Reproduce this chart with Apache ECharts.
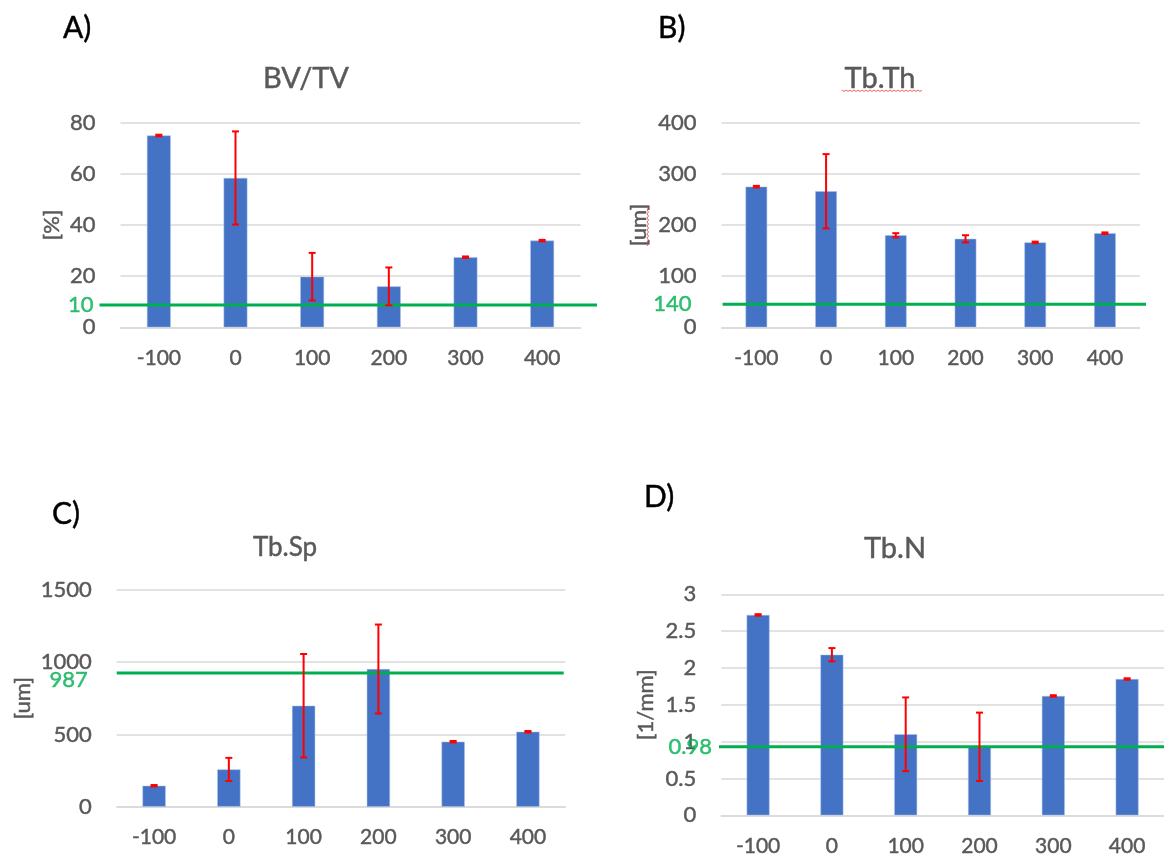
<!DOCTYPE html>
<html><head><meta charset="utf-8">
<script src="https://cdn.jsdelivr.net/npm/echarts@6/dist/echarts.min.js"></script>
<style>html,body{margin:0;padding:0;background:#fff}#c{width:1164px;height:854px}</style>
</head><body><div id="c"></div>
<script>
// ---- data ----
const categories = ['-100', '0', '100', '200', '300', '400'];

const bvtvValues = [75, 58.4, 19.8, 16.0, 27.4, 33.9];
const bvtvErrors = [0.3, 18.2, 9.3, 7.4, 0.3, 0.3];
const tbthValues = [275, 266, 180, 173, 166, 184];
const tbthErrors = [1.5, 72.6, 4, 7, 1.5, 1.5];
const tbspValues = [145, 258, 699, 953, 450, 519];
const tbspErrors = [5, 80, 358, 308, 5, 5];
const tbnValues = [2.72, 2.18, 1.10, 0.93, 1.62, 1.85];
const tbnErrors = [0.01, 0.09, 0.5, 0.464, 0.01, 0.01];

const panelTitles = ['BV/TV', 'Tb.Th', 'Tb.Sp', 'Tb.N'];
const panelLetters = ['A)', 'B)', 'C)', 'D)'];
const yUnits = ['[%]', '[um]', '[um]', '[1/mm]'];
const yTicksA = ['0', '20', '40', '60', '80'];
const yTicksB = ['0', '100', '200', '300', '400'];
const yTicksC = ['0', '500', '1000', '1500'];
const yTicksD = ['0', '0.5', '1', '1.5', '2', '2.5', '3'];
const yMax = [80, 400, 1500, 3];
const yInterval = [20, 100, 500, 0.5];
// reference (green) lines: level as drawn in the picture, and their labels
const refLevels = [8.7, 45, 925, 0.93];
const refLabels = ['10', '140', '987', '0.98'];

// ---- layout (styles / positions only) ----
const layout = [
  { grid: {left: 120.5, right: 583.5, top: 122.7, bottom: 526.7}, lineGrid: {left: 99.5, right: 567},
    title: [306, 79, 29], letter: [63, 28], nameGap: 58, refDist: 5, refDy: 0 },
  { grid: {left: 721.5, right: 24.2, top: 122.7, bottom: 526.7}, lineGrid: {left: 722.6, right: 18},
    title: [880, 79, 29], letter: [658, 28], nameGap: 72, refDist: 30, refDy: 0 },
  { grid: {left: 116.7, right: 598.7, top: 590, bottom: 47.3}, lineGrid: {left: 116.7, right: 600.3},
    title: [285, 548, 26], letter: [52, 514], nameGap: 83, refDist: 28, refDy: 7 },
  { grid: {left: 721.2, right: 0, top: 594.3, bottom: 38.7}, lineGrid: {left: 719, right: 0},
    title: [895, 549, 29], letter: [644, 497], nameGap: 64, refDist: 6, refDy: 0 }
];

const values = [bvtvValues, tbthValues, tbspValues, tbnValues];
const errors = [bvtvErrors, tbthErrors, tbspErrors, tbnErrors];
const yTicks = [yTicksA, yTicksB, yTicksC, yTicksD];

const FONT = 'Lato, "Open Sans", sans-serif';
const GREY = '#595959';
const BLUE = '#4472c4';
const GREEN = '#00b050';
const RED = '#ff0000';
const THICK = 0.45; // slight stroke to mimic the heavier text rendering

const grids = [], xAxes = [], yAxes = [], series = [], graphics = [];

layout.forEach((L, p) => {
  const gMain = grids.length;
  grids.push(Object.assign({containLabel: false, outerBoundsMode: 'none'}, L.grid));
  const gLine = grids.length;
  grids.push(Object.assign({containLabel: false, outerBoundsMode: 'none', top: L.grid.top, bottom: L.grid.bottom}, L.lineGrid));

  const xi = xAxes.length;
  xAxes.push({
    type: 'category', gridIndex: gMain, data: categories,
    axisLine: {show: true, lineStyle: {color: '#d9d9d9', width: 1.5}},
    axisTick: {show: false},
    axisLabel: {color: GREY, fontFamily: FONT, fontSize: 21, margin: 20,
      textBorderColor: GREY, textBorderWidth: THICK}
  });
  xAxes.push({type: 'value', gridIndex: gLine, min: 0, max: 1, show: false});

  const yi = yAxes.length;
  const ticks = yTicks[p];
  yAxes.push({
    type: 'value', gridIndex: gMain, min: 0, max: yMax[p], interval: yInterval[p],
    axisLine: {show: false}, axisTick: {show: false},
    splitLine: {show: true, lineStyle: {color: '#d9d9d9', width: 1.5}},
    axisLabel: {color: GREY, fontFamily: FONT, fontSize: 22, margin: 25,
      textBorderColor: GREY, textBorderWidth: THICK,
      formatter: v => ticks[Math.round(v / yInterval[p])] ?? ''},
    name: yUnits[p], nameLocation: 'middle', nameRotate: 90, nameGap: L.nameGap,
    nameTextStyle: {color: GREY, fontFamily: FONT, fontSize: 22,
      textBorderColor: GREY, textBorderWidth: THICK}
  });
  yAxes.push({type: 'value', gridIndex: gLine, min: 0, max: yMax[p], show: false});

  series.push({
    type: 'bar', xAxisIndex: xi, yAxisIndex: yi, data: values[p],
    barWidth: '31%', itemStyle: {color: BLUE, borderColor: '#a9c2ea', borderWidth: 0.5},
    z: 2
  });
  series.push({
    type: 'custom', xAxisIndex: xi, yAxisIndex: yi, z: 5,
    data: values[p].map((v, i) => [i, v, errors[p][i]]),
    encode: {x: 0, y: 1},
    renderItem: function (params, api) {
      const i = api.value(0), v = api.value(1), e = api.value(2);
      const hi = api.coord([i, v + e]);
      const lo = api.coord([i, v - e]);
      const cap = 3.5;
      const st = {stroke: RED, lineWidth: 2};
      return {type: 'group', children: [
        {type: 'line', shape: {x1: hi[0], y1: hi[1], x2: lo[0], y2: lo[1]}, style: st},
        {type: 'line', shape: {x1: hi[0] - cap, y1: hi[1], x2: hi[0] + cap, y2: hi[1]}, style: st},
        {type: 'line', shape: {x1: lo[0] - cap, y1: lo[1], x2: lo[0] + cap, y2: lo[1]}, style: st}
      ]};
    }
  });
  // green reference line
  series.push({
    type: 'line', xAxisIndex: xi + 1, yAxisIndex: yi + 1, z: 4,
    data: [[0, refLevels[p]], [1, refLevels[p]]],
    symbol: 'none', silent: true, animation: false,
    lineStyle: {color: GREEN, width: 3}
  });
  series.push({
    type: 'scatter', xAxisIndex: xi + 1, yAxisIndex: yi + 1, z: 6, clip: false,
    data: [[0, refLevels[p]]], symbolSize: 2, itemStyle: {color: 'rgba(0,0,0,0)'},
    silent: true, animation: false,
    label: {show: true, position: 'left', distance: L.refDist, offset: [0, L.refDy],
      formatter: () => refLabels[p], color: GREEN, fontFamily: FONT, fontSize: 22,
      textBorderColor: GREEN, textBorderWidth: THICK}
  });

  graphics.push({type: 'text', x: L.title[0], y: L.title[1],
    style: {text: panelTitles[p], font: L.title[2] + 'px ' + FONT, fill: GREY,
      stroke: GREY, lineWidth: THICK,
      textAlign: 'center', textVerticalAlign: 'middle'}});
  graphics.push({type: 'text', x: L.letter[0], y: L.letter[1],
    style: {text: panelLetters[p], font: '30px ' + FONT, fill: '#000',
      stroke: '#000', lineWidth: THICK,
      textAlign: 'left', textVerticalAlign: 'middle'}});
});

// spell-check squiggles seen under "Tb.Th" and beside "[um]" in panel B
function squiggle(x0, y0, len, vertical) {
  const pts = [];
  for (let k = 0; k * 2 <= len; k++) {
    const a = k * 2, b = (k % 2) ? 1.5 : 0;
    pts.push(vertical ? [x0 + b, y0 + a] : [x0 + a, y0 + b]);
  }
  return {type: 'polyline', shape: {points: pts}, style: {stroke: '#e04040', lineWidth: 0.8, fill: null}, z: 10};
}
graphics.push(squiggle(842, 90, 80, false));
graphics.push(squiggle(647, 206, 40, true));

const chart = echarts.init(document.getElementById('c'), null, {renderer: 'canvas'});
chart.setOption({
  animation: false,
  backgroundColor: '#fff',
  grid: grids, xAxis: xAxes, yAxis: yAxes, series: series,
  graphic: graphics
});
</script></body></html>
